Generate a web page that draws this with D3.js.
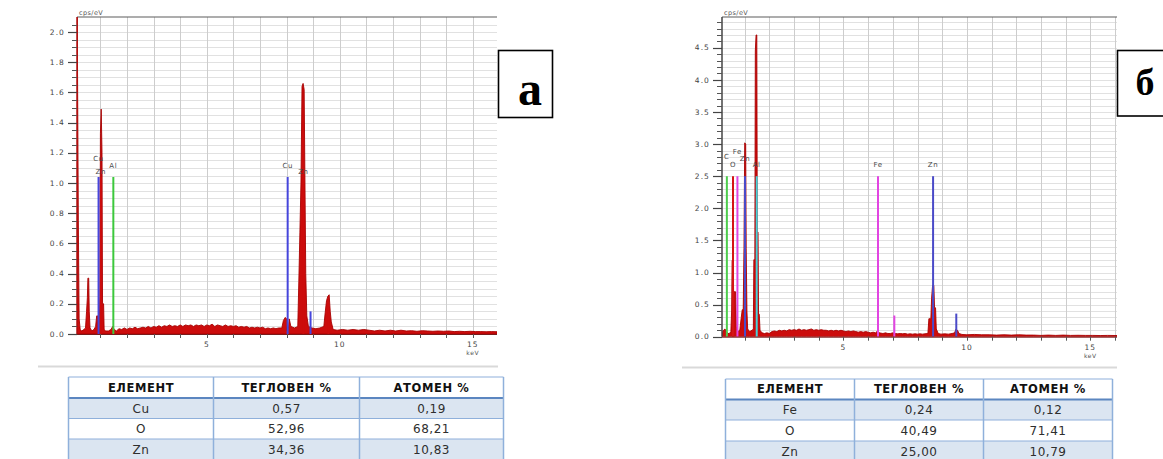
<!DOCTYPE html>
<html>
<head>
<meta charset="utf-8">
<script src="https://cdn.jsdelivr.net/npm/d3@7"></script>
<style>
  html, body { margin: 0; padding: 0; background: #fff; }
  svg { display: block; }
</style>
</head>
<body>
<div id="chart"></div>
<script>
// ---- spectrum (a): [keV, cps/eV] ----
const spectrumA = [
  [0.12, 2.4], [0.17, 0.75], [0.2, 0.1], [0.24, 0.03], [0.3, 0.02], [0.38, 0.03], [0.44, 0.04],
  [0.48, 0.15], [0.51, 0.24], [0.53, 0.37], [0.56, 0.37], [0.58, 0.15], [0.61, 0.04], [0.68, 0.02],
  [0.76, 0.03], [0.82, 0.05], [0.86, 0.12], [0.9, 0.12], [0.92, 0.02], [0.95, 0.02], [0.98, 0.25],
  [1.0, 1.33], [1.03, 1.49], [1.06, 1.2], [1.08, 0.2], [1.12, 0.2], [1.14, 0.03], [1.2, 0.02],
  [1.3, 0.02], [1.4, 0.03], [1.46, 0.05], [1.52, 0.03], [1.6, 0.02], [1.7, 0.035], [1.8, 0.03],
  [1.9, 0.04], [2.0, 0.03], [2.1, 0.04], [2.2, 0.035], [2.3, 0.045], [2.4, 0.035], [2.5, 0.04],
  [2.6, 0.045], [2.7, 0.04], [2.8, 0.05], [2.9, 0.04], [3.0, 0.05], [3.1, 0.045], [3.2, 0.055],
  [3.3, 0.045], [3.4, 0.055], [3.5, 0.05], [3.6, 0.06], [3.7, 0.05], [3.8, 0.055], [3.9, 0.05],
  [4.0, 0.06], [4.1, 0.05], [4.2, 0.06], [4.3, 0.055], [4.4, 0.06], [4.5, 0.05], [4.6, 0.06],
  [4.7, 0.055], [4.8, 0.06], [4.9, 0.05], [5.0, 0.06], [5.1, 0.055], [5.2, 0.065], [5.3, 0.05],
  [5.4, 0.06], [5.5, 0.055], [5.6, 0.05], [5.7, 0.06], [5.8, 0.05], [5.9, 0.055], [6.0, 0.05],
  [6.1, 0.055], [6.2, 0.045], [6.3, 0.05], [6.4, 0.045], [6.5, 0.05], [6.6, 0.04], [6.7, 0.045],
  [6.8, 0.04], [6.9, 0.045], [7.0, 0.04], [7.1, 0.045], [7.2, 0.035], [7.3, 0.04], [7.4, 0.035],
  [7.5, 0.04], [7.6, 0.035], [7.7, 0.04], [7.82, 0.04], [7.88, 0.09], [7.95, 0.11], [8.0, 0.1],
  [8.02, 0.02], [8.06, 0.02], [8.1, 0.1], [8.16, 0.05], [8.3, 0.04], [8.42, 0.05], [8.46, 0.35],
  [8.5, 0.67], [8.54, 1.0], [8.58, 1.64], [8.62, 1.66], [8.66, 1.62], [8.69, 1.0], [8.72, 0.4],
  [8.76, 0.12], [8.82, 0.05], [8.95, 0.04], [9.1, 0.035], [9.25, 0.04], [9.4, 0.05], [9.45, 0.14],
  [9.5, 0.22], [9.55, 0.25], [9.6, 0.26], [9.64, 0.15], [9.68, 0.08], [9.75, 0.03], [9.9, 0.025],
  [10.1, 0.03], [10.3, 0.025], [10.5, 0.03], [10.7, 0.025], [10.9, 0.03], [11.1, 0.025], [11.3, 0.02],
  [11.5, 0.025], [11.7, 0.02], [11.9, 0.025], [12.1, 0.02], [12.3, 0.025], [12.5, 0.02], [12.7, 0.022],
  [12.9, 0.018], [13.1, 0.022], [13.3, 0.02], [13.5, 0.018], [13.7, 0.02], [13.9, 0.018], [14.1, 0.02],
  [14.3, 0.016], [14.5, 0.018], [14.7, 0.016], [14.9, 0.018], [15.1, 0.016], [15.3, 0.016], [15.5, 0.015],
  [15.7, 0.016], [15.91, 0.015]
];

// ---- spectrum (б) ----
const spectrumB = [
  [0.08, 0.06], [0.14, 0.1], [0.2, 0.12], [0.26, 0.08], [0.32, 0.05], [0.38, 0.05], [0.44, 0.08],
  [0.47, 0.4], [0.49, 1.19], [0.53, 1.19], [0.55, 0.7], [0.63, 0.7], [0.66, 0.15], [0.72, 0.08],
  [0.8, 0.1], [0.86, 0.3], [0.9, 0.42], [0.94, 0.42], [0.97, 1.37], [1.0, 3.02], [1.04, 3.0],
  [1.06, 1.37], [1.09, 0.4], [1.12, 0.12], [1.2, 0.08], [1.3, 0.1], [1.35, 0.12], [1.37, 1.2],
  [1.41, 1.2], [1.43, 4.45], [1.46, 4.7], [1.49, 4.7], [1.51, 1.63], [1.54, 1.63], [1.56, 0.35],
  [1.59, 0.35], [1.62, 0.1], [1.7, 0.06], [1.8, 0.05], [1.9, 0.06], [2.0, 0.05], [2.1, 0.08],
  [2.2, 0.09], [2.3, 0.08], [2.4, 0.1], [2.5, 0.09], [2.6, 0.1], [2.7, 0.09], [2.8, 0.11],
  [2.9, 0.1], [3.0, 0.11], [3.1, 0.1], [3.2, 0.12], [3.3, 0.1], [3.4, 0.11], [3.5, 0.1],
  [3.6, 0.11], [3.7, 0.12], [3.8, 0.1], [3.9, 0.11], [4.0, 0.1], [4.1, 0.11], [4.2, 0.1],
  [4.3, 0.1], [4.4, 0.09], [4.5, 0.1], [4.6, 0.09], [4.7, 0.1], [4.8, 0.09], [4.9, 0.1],
  [5.0, 0.09], [5.1, 0.08], [5.2, 0.09], [5.3, 0.08], [5.4, 0.09], [5.5, 0.08], [5.6, 0.07],
  [5.7, 0.08], [5.8, 0.07], [5.9, 0.08], [6.0, 0.07], [6.1, 0.06], [6.2, 0.07], [6.3, 0.06],
  [6.38, 0.09], [6.45, 0.06], [6.6, 0.05], [6.7, 0.06], [6.8, 0.05], [6.9, 0.05], [7.0, 0.06],
  [7.1, 0.05], [7.2, 0.045], [7.3, 0.05], [7.4, 0.045], [7.5, 0.05], [7.6, 0.04], [7.7, 0.045],
  [7.8, 0.04], [7.9, 0.045], [8.0, 0.04], [8.1, 0.045], [8.2, 0.04], [8.3, 0.045], [8.42, 0.05],
  [8.46, 0.28], [8.54, 0.28], [8.57, 0.6], [8.61, 0.8], [8.66, 0.8], [8.69, 0.45], [8.73, 0.45],
  [8.76, 0.12], [8.84, 0.05], [8.95, 0.04], [9.1, 0.045], [9.25, 0.04], [9.4, 0.05], [9.5, 0.06],
  [9.56, 0.12], [9.62, 0.1], [9.68, 0.05], [9.8, 0.035], [10.0, 0.03], [10.3, 0.035], [10.6, 0.03],
  [10.9, 0.03], [11.2, 0.025], [11.5, 0.03], [11.8, 0.025], [12.1, 0.03], [12.4, 0.025], [12.7, 0.025],
  [13.0, 0.02], [13.3, 0.025], [13.6, 0.02], [13.9, 0.025], [14.2, 0.02], [14.5, 0.022], [14.8, 0.02],
  [15.1, 0.02], [15.4, 0.018], [15.7, 0.02], [16.08, 0.018]
];

// ---- element marker lines: [element, keV, height] ----
const markersA = [
  ['Zn', 1.012, 1.04], ['Zn', 8.63, 1.04], ['Zn', 9.57, 0.2],
  ['Cu', 0.93, 1.04], ['Cu', 8.04, 1.04], ['Cu', 8.9, 0.15],
  ['Al', 1.486, 1.04]
];
const markersB = [
  ['C', 0.277, 2.5], ['O', 0.525, 2.5], ['Fe', 0.705, 2.5], ['Zn', 1.012, 2.5],
  ['Al', 1.486, 2.5], ['Fe', 6.40, 2.5], ['Fe', 7.06, 0.33], ['Zn', 8.63, 2.5], ['Zn', 9.57, 0.36]
];
// which markers carry a name label (index into the markers list)
const labelledA = [3, 0, 6, 4, 1];
const labelledB = [0, 1, 2, 3, 4, 5, 7];

const yTicksA = [0, 0.2, 0.4, 0.6, 0.8, 1.0, 1.2, 1.4, 1.6, 1.8, 2.0];
const yTicksB = [0, 0.5, 1.0, 1.5, 2.0, 2.5, 3.0, 3.5, 4.0, 4.5];
const xTicks = [5, 10, 15];

// ---- composition tables ----
const tableHeader = ['ЕЛЕМЕНТ', 'ТЕГЛОВЕН %', 'АТОМЕН %'];
const tableA = [['Cu', '0,57', '0,19'], ['O', '52,96', '68,21'], ['Zn', '34,36', '10,83']];
const tableB = [['Fe', '0,24', '0,12'], ['O', '40,49', '71,41'], ['Zn', '25,00', '10,79']];

// ---- styling / layout ----
const W = 1163, H = 459;
const RED = '#cc0c0c';
const colorsA = { Cu: '#4646dc', Zn: RED, Al: '#3cc83c' };
const colorsB = { C: '#4ccc4c', O: '#d41414', Fe: '#e244e2', Zn: '#4a4ac8', Al: '#46d2da' };
// vertical stagger of the element labels (px, negative = up)
const labelShiftA = { 3: -7, 0: 6, 6: 0, 4: 0, 1: 6 };
const labelShiftB = { 0: -8, 1: 0, 2: -13, 3: -6, 4: 0, 5: 0, 7: 0 };

const svg = d3.select('#chart').append('svg')
  .attr('width', W).attr('height', H)
  .attr('viewBox', `0 0 ${W} ${H}`)
  .style('font-family', 'DejaVu Sans, sans-serif');

svg.append('rect').attr('width', W).attr('height', H).attr('fill', '#fff');

function drawSpectrum(opt) {
  const x = d3.scaleLinear().domain(opt.xDomain).range(opt.xRange);
  const y = d3.scaleLinear().domain(opt.yDomain).range(opt.yRange);
  const [x0, x1] = opt.xRange;
  const [yB, yT] = opt.yRange;
  const g = svg.append('g');

  // clip
  const clipId = 'clip-' + opt.id;
  svg.append('clipPath').attr('id', clipId)
    .append('rect').attr('x', x0).attr('y', yT).attr('width', x1 - x0).attr('height', yB - yT);

  // horizontal gridlines
  const hGrid = d3.range(opt.gridStep, opt.yDomain[1], opt.gridStep);
  g.append('g').selectAll('line').data(hGrid).enter().append('line')
    .attr('x1', x0).attr('x2', x1)
    .attr('y1', d => Math.round(y(d)) + 0.5).attr('y2', d => Math.round(y(d)) + 0.5)
    .attr('stroke', '#e1e1e1').attr('stroke-width', 1);

  // vertical gridlines every keV
  const vGrid = d3.range(1, Math.floor(opt.xDomain[1]) + 1);
  g.append('g').selectAll('line').data(vGrid).enter().append('line')
    .attr('x1', d => Math.round(x(d)) + 0.5).attr('x2', d => Math.round(x(d)) + 0.5)
    .attr('y1', yT).attr('y2', yB)
    .attr('stroke', '#cdcdcd').attr('stroke-width', 1);

  // top frame
  g.append('line').attr('x1', x0).attr('x2', x1).attr('y1', yT).attr('y2', yT)
    .attr('stroke', '#5c5c5c').attr('stroke-width', 1.2);

  // spectrum area
  const area = d3.area()
    .x(d => x(d[0])).y0(y(0)).y1(d => y(d[1]))
    .curve(d3.curveLinear);
  g.append('path').datum(opt.spectrum)
    .attr('clip-path', `url(#${clipId})`)
    .attr('d', area)
    .attr('fill', RED).attr('stroke', '#a80000').attr('stroke-width', 0.9);

  // element marker lines
  g.append('g').selectAll('line').data(opt.markers).enter().append('line')
    .attr('x1', d => x(d[1])).attr('x2', d => x(d[1]))
    .attr('y1', y(0)).attr('y2', d => y(d[2]))
    .attr('stroke', d => opt.colors[d[0]]).attr('stroke-width', 2);

  // marker labels
  g.append('g').selectAll('text').data(opt.labelled).enter().append('text')
    .attr('x', i => x(opt.markers[i][1]))
    .attr('y', i => y(opt.markers[i][2]) - 9 + (opt.shift[i] || 0))
    .attr('text-anchor', 'middle')
    .style('font-size', '7px').style('letter-spacing', '0.6px')
    .style('fill', '#4a4a4a')
    .text(i => opt.markers[i][0]);

  // y axis line
  g.append('line').attr('x1', x0).attr('x2', x0).attr('y1', yT).attr('y2', yB)
    .attr('stroke', opt.axisColor).attr('stroke-width', 1.5);
  // x axis line
  g.append('line').attr('x1', x0).attr('x2', x1).attr('y1', yB + 0.5).attr('y2', yB + 0.5)
    .attr('stroke', '#7a1a1a').attr('stroke-width', 1);

  // y minor ticks
  g.append('g').selectAll('line').data(d3.range(0, opt.yDomain[1], opt.gridStep)).enter().append('line')
    .attr('x1', x0 - 5).attr('x2', x0)
    .attr('y1', d => Math.round(y(d)) + 0.5).attr('y2', d => Math.round(y(d)) + 0.5)
    .attr('stroke', '#555').attr('stroke-width', 1);
  // y major ticks + labels
  const yAxis = g.append('g').selectAll('g').data(opt.yTicks).enter().append('g');
  yAxis.append('line')
    .attr('x1', x0 - 9).attr('x2', x0)
    .attr('y1', d => Math.round(y(d)) + 0.5).attr('y2', d => Math.round(y(d)) + 0.5)
    .attr('stroke', '#444').attr('stroke-width', 1.2);
  yAxis.append('text')
    .attr('x', x0 - 12).attr('y', d => y(d)).attr('dy', '0.35em')
    .attr('text-anchor', 'end')
    .style('font-size', '7.5px').style('letter-spacing', '1.1px').style('fill', '#444')
    .text(d => d.toFixed(1));

  // x ticks
  g.append('g').selectAll('line').data(vGrid).enter().append('line')
    .attr('x1', d => Math.round(x(d)) + 0.5).attr('x2', d => Math.round(x(d)) + 0.5)
    .attr('y1', yB).attr('y2', yB + 4)
    .attr('stroke', '#555').attr('stroke-width', 1);
  g.append('g').selectAll('text').data(xTicks).enter().append('text')
    .attr('x', d => x(d)).attr('y', yB + 13)
    .attr('text-anchor', 'middle')
    .style('font-size', '7.5px').style('letter-spacing', '1px').style('fill', '#444')
    .text(d => d);
  g.append('text').attr('x', x(15)).attr('y', yB + 21)
    .attr('text-anchor', 'middle')
    .style('font-size', '6px').style('letter-spacing', '0.6px').style('fill', '#555')
    .text('keV');
  g.append('text').attr('x', x0 + 2).attr('y', yT - 2)
    .style('font-size', '6.5px').style('letter-spacing', '0.4px').style('fill', '#555')
    .text('cps/eV');
}

drawSpectrum({
  id: 'a', spectrum: spectrumA, markers: markersA, labelled: labelledA, shift: labelShiftA,
  colors: colorsA, yTicks: yTicksA, gridStep: 0.05, axisColor: '#b01010',
  xDomain: [0.12, 15.91], xRange: [77, 497], yDomain: [0, 2.1], yRange: [334, 17]
});
drawSpectrum({
  id: 'b', spectrum: spectrumB, markers: markersB, labelled: labelledB, shift: labelShiftB,
  colors: colorsB, yTicks: yTicksB, gridStep: 0.1, axisColor: '#444',
  xDomain: [0.08, 16.08], xRange: [722, 1117], yDomain: [0, 4.98], yRange: [336.7, 17]
});

// panel letter boxes
function letterBox(x, y, w, h, letter, size, tx, ty) {
  svg.append('rect').attr('x', x).attr('y', y).attr('width', w).attr('height', h)
    .attr('fill', '#fff').attr('stroke', '#000').attr('stroke-width', 1.6);
  svg.append('text').attr('x', tx).attr('y', ty).attr('text-anchor', 'middle')
    .style('font-family', 'Liberation Serif, serif').style('font-weight', 'bold')
    .style('font-size', size + 'px').style('fill', '#000')
    .text(letter);
}
letterBox(498.5, 50.5, 54, 67, 'а', 48, 530, 105);
letterBox(1117.5, 50.5, 50, 65.5, 'б', 38, 1145, 95);

// separator lines above the tables
svg.append('line').attr('x1', 38).attr('x2', 498).attr('y1', 366.5).attr('y2', 366.5)
  .attr('stroke', '#d9d9d9').attr('stroke-width', 2);
svg.append('line').attr('x1', 682).attr('x2', 1117).attr('y1', 367.5).attr('y2', 367.5)
  .attr('stroke', '#d9d9d9').attr('stroke-width', 2);

function drawTable(cols, rowsY, rows) {
  const g = svg.append('g');
  const all = [tableHeader].concat(rows);
  all.forEach((r, i) => {
    g.append('rect').attr('x', cols[0]).attr('y', rowsY[i])
      .attr('width', cols[3] - cols[0]).attr('height', rowsY[i + 1] - rowsY[i])
      .attr('fill', i % 2 === 1 ? '#dbe5f1' : '#fff');
    r.forEach((c, j) => {
      g.append('text')
        .attr('x', (cols[j] + cols[j + 1]) / 2)
        .attr('y', (rowsY[i] + rowsY[i + 1]) / 2).attr('dy', '0.36em')
        .attr('text-anchor', 'middle')
        .style('font-size', i === 0 ? '11.5px' : '12px')
        .style('font-weight', i === 0 ? 'bold' : 'normal')
        .style('letter-spacing', i === 0 ? '0.6px' : '0.5px')
        .style('fill', i === 0 ? '#111' : '#2e2e2e')
        .text(c);
    });
  });
  // horizontal rules
  rowsY.forEach((yy, i) => {
    g.append('line').attr('x1', cols[0]).attr('x2', cols[3]).attr('y1', yy).attr('y2', yy)
      .attr('stroke', i === 1 ? '#5b86c0' : '#8fb0db').attr('stroke-width', i === 1 ? 2 : 1.2);
  });
  cols.forEach(xx => {
    g.append('line').attr('x1', xx).attr('x2', xx).attr('y1', rowsY[0]).attr('y2', rowsY[rowsY.length - 1])
      .attr('stroke', '#8fb0db').attr('stroke-width', 1.5);
  });
}
drawTable([68.5, 213.5, 359.5, 503.5], [377, 398, 418.5, 439, 459.5], tableA);
drawTable([725.5, 854.5, 983.5, 1112.5], [379, 399.5, 420, 441, 461.5], tableB);
</script>
</body>
</html>
